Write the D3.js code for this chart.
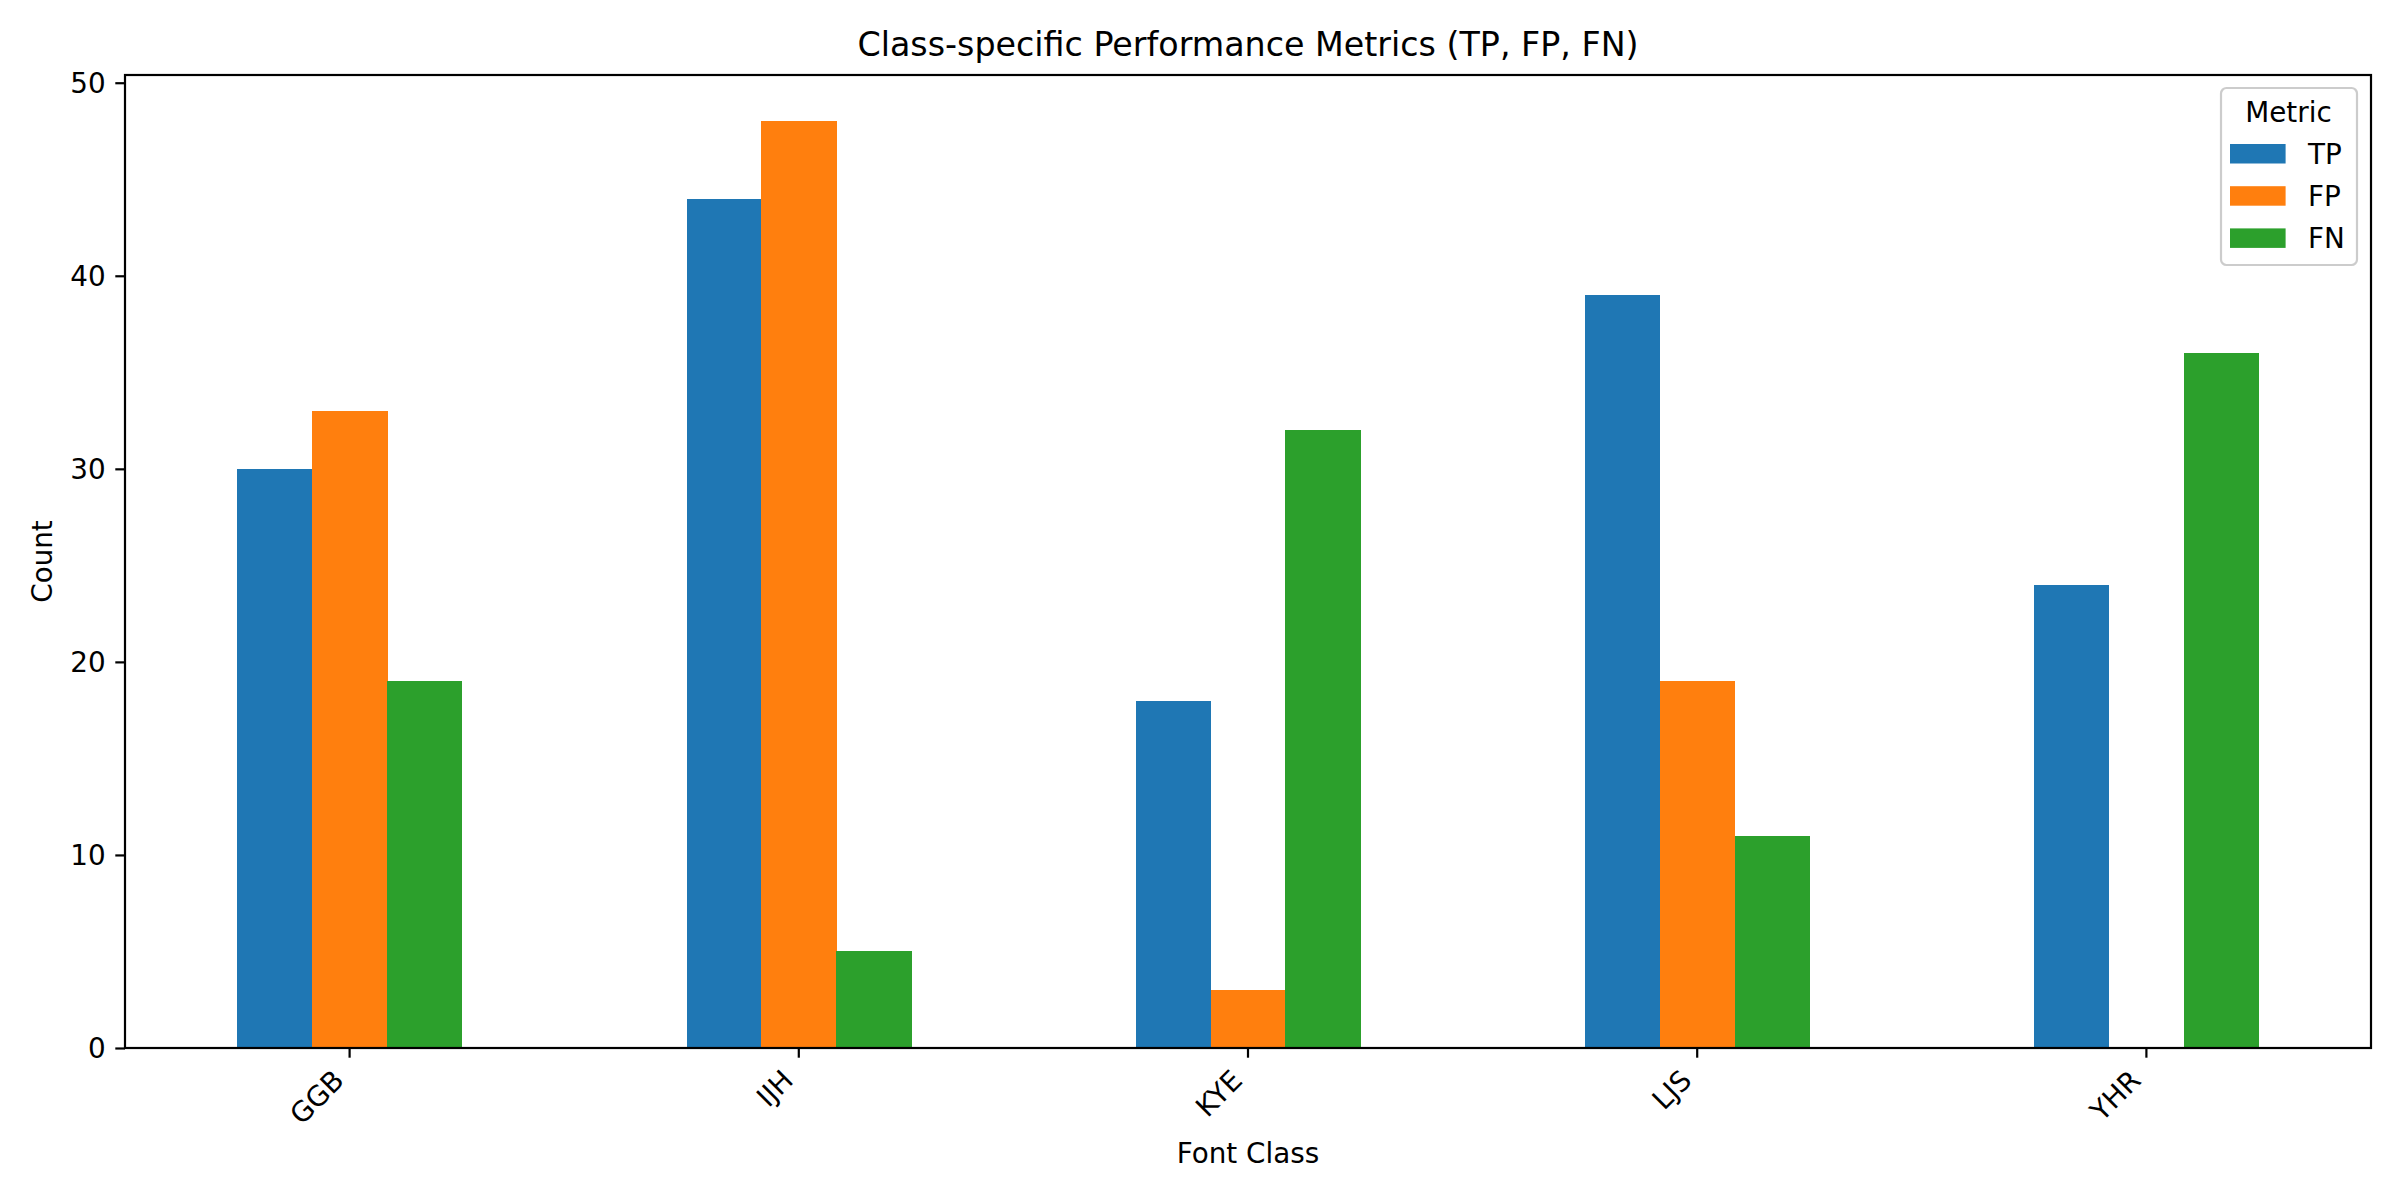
<!DOCTYPE html>
<html>
<head>
<meta charset="utf-8">
<script src="https://cdn.jsdelivr.net/npm/d3@7"></script>
<style>
  html, body { margin: 0; padding: 0; background: #fff; }
  svg { display: block; font-family: "DejaVu Sans", sans-serif; }
</style>
</head>
<body>
<svg id="chart" width="2400" height="1200"></svg>
<script>
const categories = ["GGB", "IJH", "KYE", "LJS", "YHR"];
const metrics = ["TP", "FP", "FN"];
const tpValues = [30, 44, 18, 39, 24];
const fpValues = [33, 48, 3, 19, 0];
const fnValues = [19, 5, 32, 11, 36];
const yTicks = [0, 10, 20, 30, 40, 50];
const colors = ["#1f77b4", "#ff7f0e", "#2ca02c"];

const seriesValues = { TP: tpValues, FP: fpValues, FN: fnValues };
const data = categories.map((c, i) => ({ cat: c, values: metrics.map(m => ({ key: m, value: seriesValues[m][i] })) }));

const svg = d3.select("#chart");
const margin = { left: 125, right: 2371, top: 75, bottom: 1048 };
const fs = 27.8, tickLen = 9.7, lw = 2.2;

const x = d3.scaleBand().domain(categories).range([margin.left, margin.right]).paddingInner(0.5).paddingOuter(0.25);
const xs = d3.scaleBand().domain(metrics).range([0, x.bandwidth()]);
const ymax = d3.max([...tpValues, ...fpValues, ...fnValues]) * 1.05;
const y = d3.scaleLinear().domain([0, ymax]).range([margin.bottom, margin.top]);
const color = d3.scaleOrdinal().domain(metrics).range(colors);

// bars
const g = svg.append("g").attr("shape-rendering", "crispEdges");
data.forEach(d => {
  g.selectAll(null).data(d.values).enter().append("rect")
    .attr("x", v => x(d.cat) + xs(v.key))
    .attr("y", v => y(v.value))
    .attr("width", xs.bandwidth() + 0.5)
    .attr("height", v => y(0) - y(v.value))
    .attr("fill", v => color(v.key));
});

// y axis
const yAxis = svg.append("g").attr("transform", `translate(${margin.left},0)`)
  .call(d3.axisLeft(y).tickValues(yTicks).tickSize(tickLen).tickPadding(9.7).tickSizeOuter(0));
yAxis.select(".domain").remove();
yAxis.selectAll("line").attr("stroke", "#000").attr("stroke-width", lw);
yAxis.selectAll("text").attr("font-size", fs).attr("font-family", "DejaVu Sans").attr("fill", "#000").attr("dy", "0.35em");

// x axis
const xAxis = svg.append("g").attr("transform", `translate(0,${margin.bottom})`)
  .call(d3.axisBottom(x).tickSize(tickLen).tickSizeOuter(0));
xAxis.select(".domain").remove();
xAxis.selectAll("line").attr("stroke", "#000").attr("stroke-width", lw);
xAxis.selectAll("text")
  .attr("font-size", fs).attr("font-family", "DejaVu Sans").attr("fill", "#000")
  .attr("text-anchor", "end")
  .attr("y", 0).attr("dy", 0)
  .attr("transform", "translate(-4,34) rotate(-45)");

// spines
svg.append("rect")
  .attr("x", margin.left).attr("y", margin.top)
  .attr("width", margin.right - margin.left).attr("height", margin.bottom - margin.top)
  .attr("fill", "none").attr("stroke", "#000").attr("stroke-width", lw);

// title
svg.append("text").attr("x", (margin.left + margin.right) / 2).attr("y", 56)
  .attr("text-anchor", "middle").attr("font-size", 33.3).attr("fill", "#000")
  .text("Class-specific Performance Metrics (TP, FP, FN)");

// axis labels
svg.append("text").attr("x", (margin.left + margin.right) / 2).attr("y", 1163)
  .attr("text-anchor", "middle").attr("font-size", fs).attr("fill", "#000")
  .text("Font Class");
svg.append("text").attr("transform", `translate(52,${(margin.top + margin.bottom) / 2}) rotate(-90)`)
  .attr("text-anchor", "middle").attr("font-size", fs).attr("fill", "#000")
  .text("Count");

// legend
const leg = svg.append("g");
leg.append("rect").attr("x", 2221).attr("y", 88).attr("width", 136).attr("height", 177)
  .attr("rx", 5.5).attr("ry", 5.5)
  .attr("fill", "#fff").attr("fill-opacity", 0.8).attr("stroke", "#cccccc").attr("stroke-width", 2.2);
leg.append("text").attr("x", 2288.5).attr("y", 122).attr("text-anchor", "middle")
  .attr("font-size", fs).attr("fill", "#000").text("Metric");
metrics.forEach((m, i) => {
  const yy = 144 + i * 42.2;
  leg.append("rect").attr("x", 2230).attr("y", yy).attr("width", 55.6).attr("height", 19.5).attr("fill", color(m));
  leg.append("text").attr("x", 2308).attr("y", yy + 19.5).attr("font-size", fs).attr("fill", "#000").text(m);
});
</script>
</body>
</html>
